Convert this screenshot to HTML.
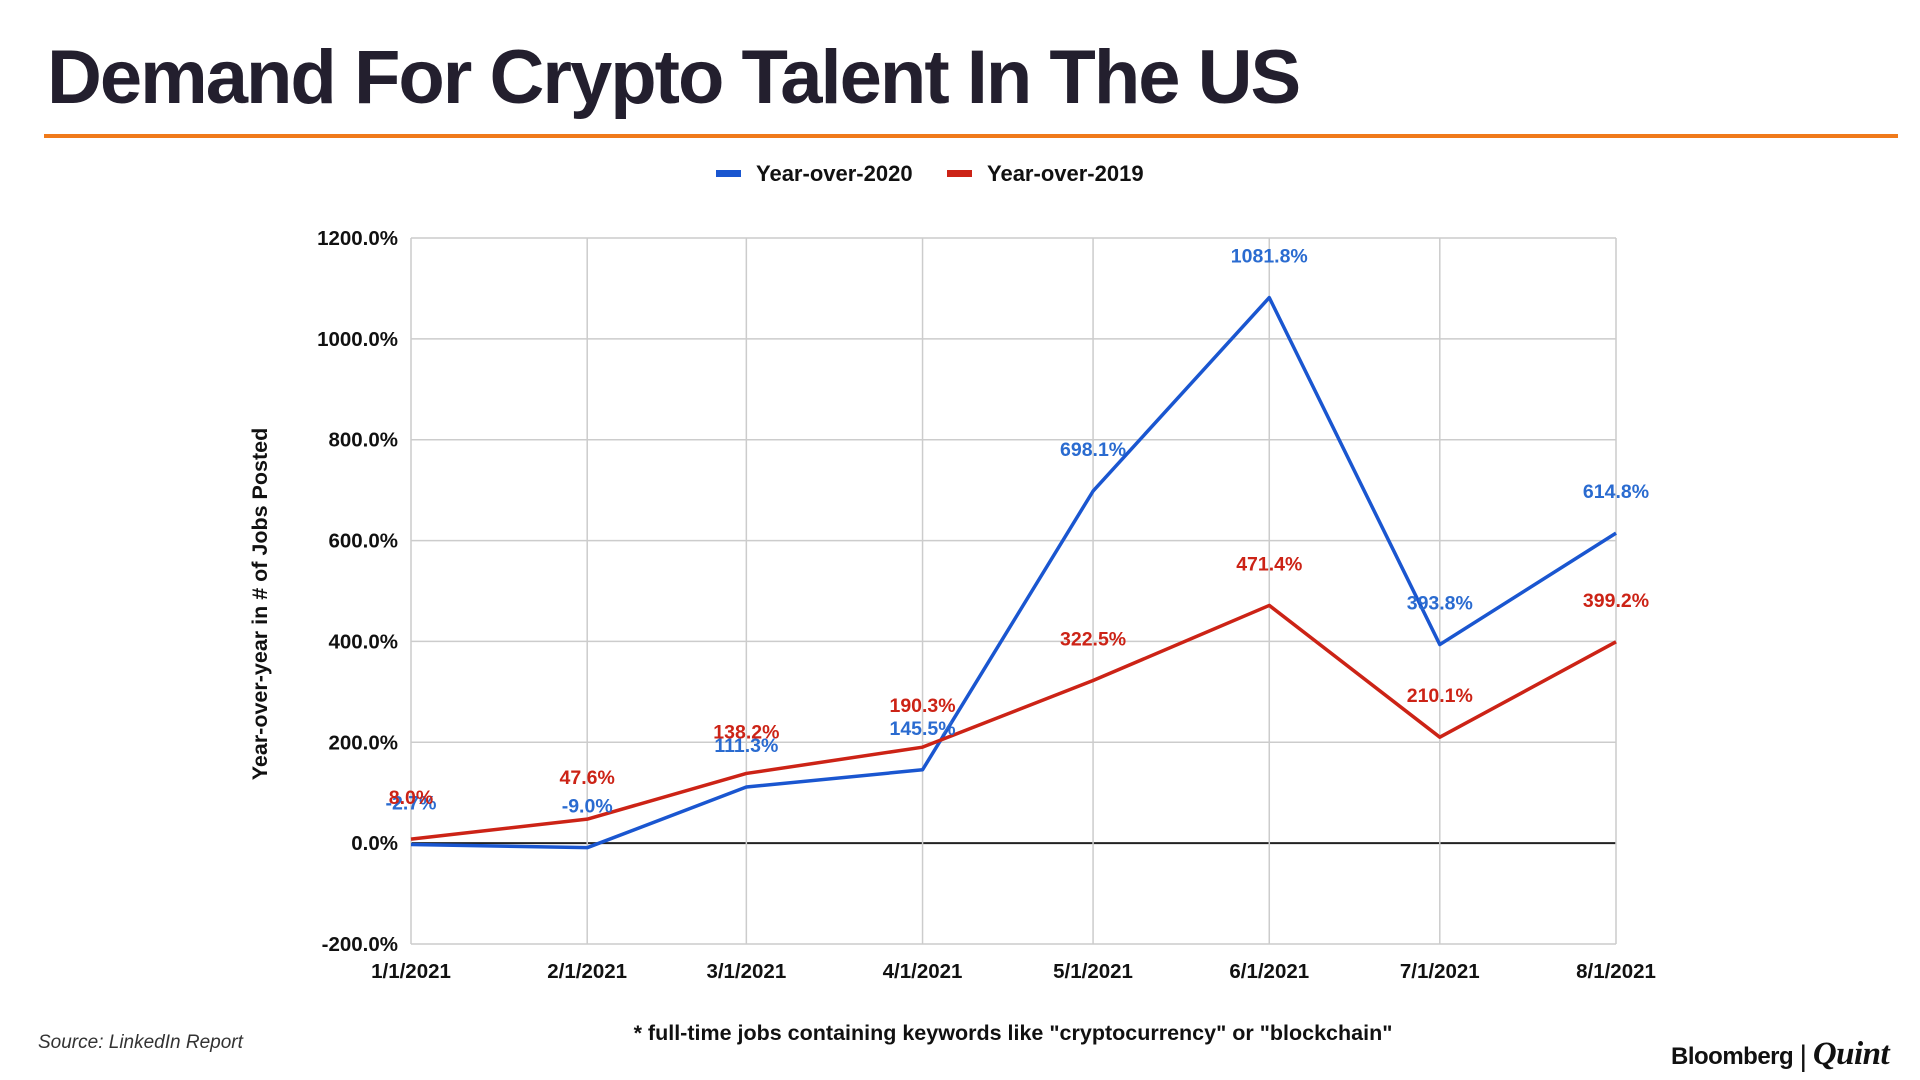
<!DOCTYPE html>
<html><head><meta charset="utf-8">
<style>
body{margin:0;width:1920px;height:1080px;background:#fff;overflow:hidden;font-family:"Liberation Sans",sans-serif;position:relative}
.t{position:absolute;white-space:nowrap}
</style></head><body>
<div class="t" style="left:47px;top:34px;font-size:76px;font-weight:bold;color:#231f2e;letter-spacing:-2px">Demand For Crypto Talent In The US</div>
<div style="position:absolute;left:44px;top:134px;width:1854px;height:4px;background:#f07a1a"></div>
<svg id="c" width="1920" height="1080" style="position:absolute;left:0;top:0"></svg>
<div class="t" style="left:38px;top:1032px;font-size:19px;font-style:italic;color:#333">Source: LinkedIn Report</div>
<div class="t" style="left:1671px;top:1036px;font-size:24px;font-weight:bold;color:#111;letter-spacing:-0.5px">Bloomberg <span style="font-weight:normal;color:#111;font-size:30px;position:relative;top:2px">|</span> <span style="font-family:'Liberation Serif',serif;font-style:italic;font-size:33px">Quint</span></div>
<script>
const categories=["1/1/2021","2/1/2021","3/1/2021","4/1/2021","5/1/2021","6/1/2021","7/1/2021","8/1/2021"];
const dayOffsets=[0,31,59,90,120,151,181,212];
const yoy2020=[-2.7,-9.0,111.3,145.5,698.1,1081.8,393.8,614.8];
const yoy2019=[8.0,47.6,138.2,190.3,322.5,471.4,210.1,399.2];
const yTicks=[-200,0,200,400,600,800,1000,1200];
const NS="http://www.w3.org/2000/svg";
const svg=document.getElementById('c');
const L=411,R=1616,T=238,B=944;
const x=d=>L+d/212*(R-L);
const y=v=>B-(v+200)/1400*(B-T);
function mk(tag,attrs,txt){const e=document.createElementNS(NS,tag);for(const k in attrs)e.setAttribute(k,attrs[k]);if(txt!=null)e.textContent=txt;svg.appendChild(e);return e;}
yTicks.forEach(v=>{
  const g=mk('line',{x1:L,x2:R,y1:y(v),y2:y(v),stroke:v===0?'#222':'#ccc','stroke-width':v===0?2:1.5});
  
  
  const t=mk('text',{x:L-13,y:y(v)+7,'text-anchor':'end','font-size':20.5,'font-weight':'bold',fill:'#111'},v.toFixed(1)+'%');
  
  
});
categories.forEach((c,i)=>{
  const g=mk('line',{x1:x(dayOffsets[i]),x2:x(dayOffsets[i]),y1:T,y2:B,stroke:'#ccc','stroke-width':1.5});
  
  
  const t=mk('text',{x:x(dayOffsets[i]),y:978,'text-anchor':'middle','font-size':20.5,'font-weight':'bold',fill:'#111'},c);
  
  
});
function series(vals,color,name){
  const p=mk('polyline',{points:vals.map((v,i)=>x(dayOffsets[i])+','+y(v)).join(' '),fill:'none',stroke:color,'stroke-width':3.5,'stroke-linejoin':'round'});
  
  
}
function labels(vals,color,name){
  vals.forEach((v,i)=>{
    const t=mk('text',{x:x(dayOffsets[i]),y:y(v)-35,'text-anchor':'middle','font-size':19.5,'font-weight':'bold',fill:color},v.toFixed(1)+'%');
    
    
  });
}
series(yoy2020,'#1a56d0','yoy-2020');
series(yoy2019,'#cc2316','yoy-2019');
labels(yoy2020,'#2a6bd0','yoy-2020');
labels(yoy2019,'#cc2316','yoy-2019');
const yt=mk('text',{transform:'translate(267,604) rotate(-90)','text-anchor':'middle','font-size':21.5,'font-weight':'bold',fill:'#111'},'Year-over-year in # of Jobs Posted');


const fn=mk('text',{x:1013,y:1040,'text-anchor':'middle','font-size':21.5,'font-weight':'bold',fill:'#111'},'* full-time jobs containing keywords like "cryptocurrency" or "blockchain"');


[[716,'#1a56d0','Year-over-2020'],[947,'#cc2316','Year-over-2019']].forEach(([lx,col,txt])=>{
  const r=mk('rect',{x:lx,y:170,width:25,height:7,fill:col});
  
  
  const t=mk('text',{x:lx+40,y:181,'font-size':22,'font-weight':'bold',fill:'#111'},txt);
  
  
});
</script>
</body></html>
